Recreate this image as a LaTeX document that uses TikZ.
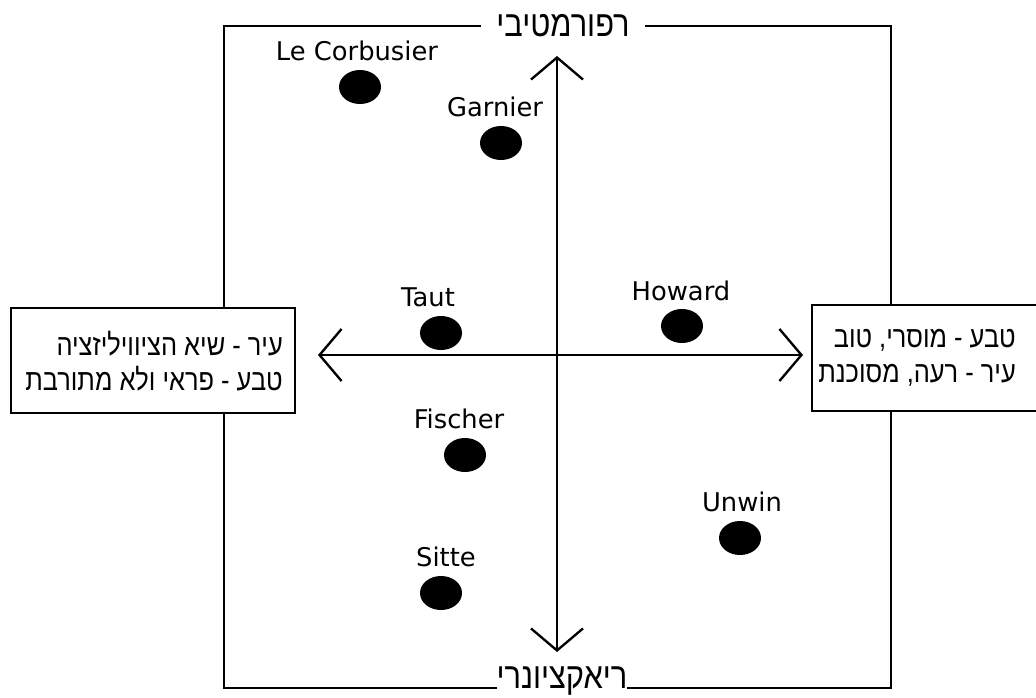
\documentclass[tikz,border=0pt]{standalone}
\usepackage{fontspec}
\setmainfont{DejaVu Sans}
\newfontfamily\hebfont[Script=Hebrew, FakeStretch=0.85]{Liberation Sans}
\TeXXeTstate=1
\usetikzlibrary{arrows.meta, shapes.geometric, positioning}

\begin{document}
\begin{tikzpicture}[x=0.03cm, y=-0.03cm]
	\tikzstyle{architect}=[ellipse, fill=black, inner sep=0pt, minimum width=1.26cm, minimum height=1.02cm]
	\tikzstyle{archname}=[anchor=base, inner sep=0pt, font=\fontsize{22}{26}\selectfont]
	\tikzstyle{axis}=[line width=2pt, {Straight Barb[length=0.66cm, width=1.56cm]}-{Straight Barb[length=0.66cm, width=1.56cm]}]
	\tikzstyle{pole}=[draw=black, line width=0.9pt, fill=white]
	\tikzstyle{poletext}=[anchor=east, inner sep=0pt, align=right, font=\hebfont\fontsize{25.5}{29.8}\selectfont]
	\tikzstyle{heading}=[fill=white, inner ysep=0pt, font=\hebfont\fontsize{31}{36}\selectfont]

	\useasboundingbox (0,0) rectangle (1036,697);
	\draw[line width=0.9pt] (224,26) rectangle (891,688);

	\node[heading, inner xsep=0.45cm] (reform) at (563,26) {\beginR רפורמטיבי\endR};
	\node[heading, anchor=base, inner xsep=0pt] (react) at (562,688) {\beginR ריאקציונרי\endR};

	% the two poles
	\draw[pole] (11,308) rectangle (295,413);
	\node[poletext] (city) at (283,361) {\beginR עיר - שיא הציוויליזציה\endR\\\beginR טבע - פראי ולא מתורבת\endR};
	\draw[pole] (812,305) rectangle (1040,411);
	\node[poletext] (nature) at (1016,358) {\beginR טבע - מוסרי, טוב\endR\\\beginR עיר - רעה, מסוכנת\endR};

	\coordinate (N) at (557,56);
	\coordinate (S) at (557,652);
	\coordinate (W) at (318,355);
	\coordinate (E) at (803,355);
	\draw[axis] (S) -- (N);
	\draw[axis] (W) -- (E);

	\node[architect] (D-1) at (360,87) {};
	\node[archname] (L-1) at (357,60) {Le Corbusier};
	\node[architect] (D-2) at (501,143) {};
	\node[archname] (L-2) at (495,116) {Garnier};
	\node[architect] (D-3) at (441,333) {};
	\node[archname] (L-3) at (428,306) {Taut};
	\node[architect] (D-4) at (682,326) {};
	\node[archname] (L-4) at (681,300) {Howard};
	\node[architect] (D-5) at (465,455) {};
	\node[archname] (L-5) at (459,428) {Fischer};
	\node[architect] (D-6) at (740,538) {};
	\node[archname] (L-6) at (742,511) {Unwin};
	\node[architect] (D-7) at (441,593) {};
	\node[archname] (L-7) at (446,566) {Sitte};
\end{tikzpicture}
\end{document}
